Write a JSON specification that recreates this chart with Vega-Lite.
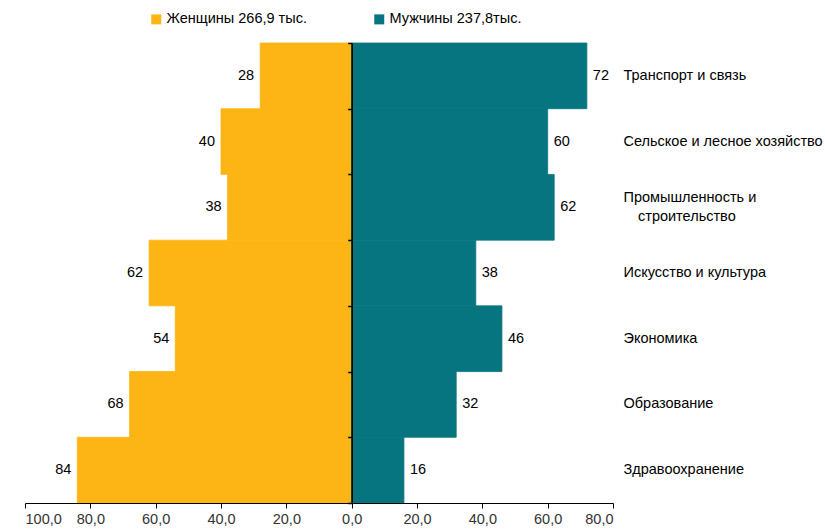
{
  "$schema": "https://vega.github.io/schema/vega-lite/v6.json",
  "width": 588,
  "height": 460,
  "autosize": "none",
  "padding": {"left": 25, "top": 43, "right": 212, "bottom": 28},
  "config": {"font": "Liberation Sans", "view": {"stroke": null}},
  "data": {
    "values": [
      {"category": "Транспорт и связь", "sex": "Женщины", "value": 28},
      {"category": "Сельское и лесное хозяйство", "sex": "Женщины", "value": 40},
      {"category": "Промышленность и|\u200b\u2002\u2002строительство", "sex": "Женщины", "value": 38},
      {"category": "Искусство и культура", "sex": "Женщины", "value": 62},
      {"category": "Экономика", "sex": "Женщины", "value": 54},
      {"category": "Образование", "sex": "Женщины", "value": 68},
      {"category": "Здравоохранение", "sex": "Женщины", "value": 84},
      {"category": "Транспорт и связь", "sex": "Мужчины", "value": 72},
      {"category": "Сельское и лесное хозяйство", "sex": "Мужчины", "value": 60},
      {"category": "Промышленность и|\u200b\u2002\u2002строительство", "sex": "Мужчины", "value": 62},
      {"category": "Искусство и культура", "sex": "Мужчины", "value": 38},
      {"category": "Экономика", "sex": "Мужчины", "value": 46},
      {"category": "Образование", "sex": "Мужчины", "value": 32},
      {"category": "Здравоохранение", "sex": "Мужчины", "value": 16}
    ]
  },
  "transform": [
    {"calculate": "datum.sex == 'Женщины' ? -datum.value : datum.value", "as": "x"}
  ],
  "resolve": {"axis": {"y": "independent"}},
  "layer": [
    {
      "mark": {"type": "bar", "strokeWidth": 0.8},
      "encoding": {
        "y": {
          "field": "category", "type": "nominal", "sort": null,
          "scale": {"paddingInner": 0, "paddingOuter": 0},
          "axis": {
            "orient": "right", "title": null, "domain": false, "ticks": false, "tickSize": 0,
            "labelPadding": 10, "labelAlign": "left", "labelFontSize": 14.5, "labelColor": "#000",
            "labelExpr": "split(datum.label, '|')", "labelLineHeight": 19, "labelLimit": 300,
            "labelOffset": {"condition": {"test": "indexof(datum.value, '|') >= 0", "value": -9.5}, "value": 0}
          }
        },
        "x": {
          "field": "x", "type": "quantitative",
          "scale": {"domain": [-100, 80], "nice": false},
          "axis": {
            "values": [-100, -80, -60, -40, -20, 0, 20, 40, 60, 80],
            "title": null, "grid": false, "domainColor": "#000", "tickColor": "#000",
            "tickSize": 5, "labelFontSize": 14.5, "labelColor": "#333", "labelPadding": 4,
            "labelExpr": "replace(format(abs(datum.value), '.1f'), '.', ',')",
            "zindex": 2
          }
        },
        "color": {
          "field": "sex", "type": "nominal",
          "scale": {"domain": ["Женщины", "Мужчины"], "range": ["#FCB514", "#07757F"]},
          "legend": {
            "orient": "none", "legendX": 124, "legendY": -31, "direction": "horizontal",
            "title": null, "symbolType": "square", "symbolSize": 100, "symbolStrokeWidth": 0,
            "labelFontSize": 14.5, "labelColor": "#000", "labelOffset": 3, "columnPadding": 65,
            "labelExpr": "datum.label == 'Женщины' ? 'Женщины 266,9 тыс.' : 'Мужчины 237,8тыс.'"
          }
        },
        "stroke": {
          "field": "sex", "type": "nominal",
          "scale": {"domain": ["Женщины", "Мужчины"], "range": ["#FCB514", "#07757F"]},
          "legend": null
        }
      }
    },
    {
      "transform": [{"filter": "datum.sex == 'Женщины'"}],
      "mark": {"type": "text", "align": "right", "baseline": "middle", "dx": -6, "fontSize": 14.5, "color": "#000"},
      "encoding": {
        "y": {"field": "category", "type": "nominal", "sort": null, "axis": null},
        "x": {"field": "x", "type": "quantitative"},
        "text": {"field": "value", "type": "quantitative"}
      }
    },
    {
      "transform": [{"filter": "datum.sex == 'Мужчины'"}],
      "mark": {"type": "text", "align": "left", "baseline": "middle", "dx": 6, "fontSize": 14.5, "color": "#000"},
      "encoding": {
        "y": {"field": "category", "type": "nominal", "sort": null, "axis": null},
        "x": {"field": "x", "type": "quantitative"},
        "text": {"field": "value", "type": "quantitative"}
      }
    },
    {
      "transform": [{"filter": "datum.sex == 'Мужчины'"}],
      "mark": {"type": "point", "opacity": 0},
      "encoding": {
        "y": {
          "field": "category", "type": "nominal", "sort": null,
          "axis": {
            "orient": "left", "title": null, "labels": false, "offset": -326.67,
            "tickBand": "extent", "tickSize": 4, "tickColor": "#000", "tickWidth": 1.5,
            "domainColor": "#000", "domainWidth": 1.5, "zindex": 3
          }
        },
        "x": {"datum": 0, "type": "quantitative"}
      }
    }
  ]
}
